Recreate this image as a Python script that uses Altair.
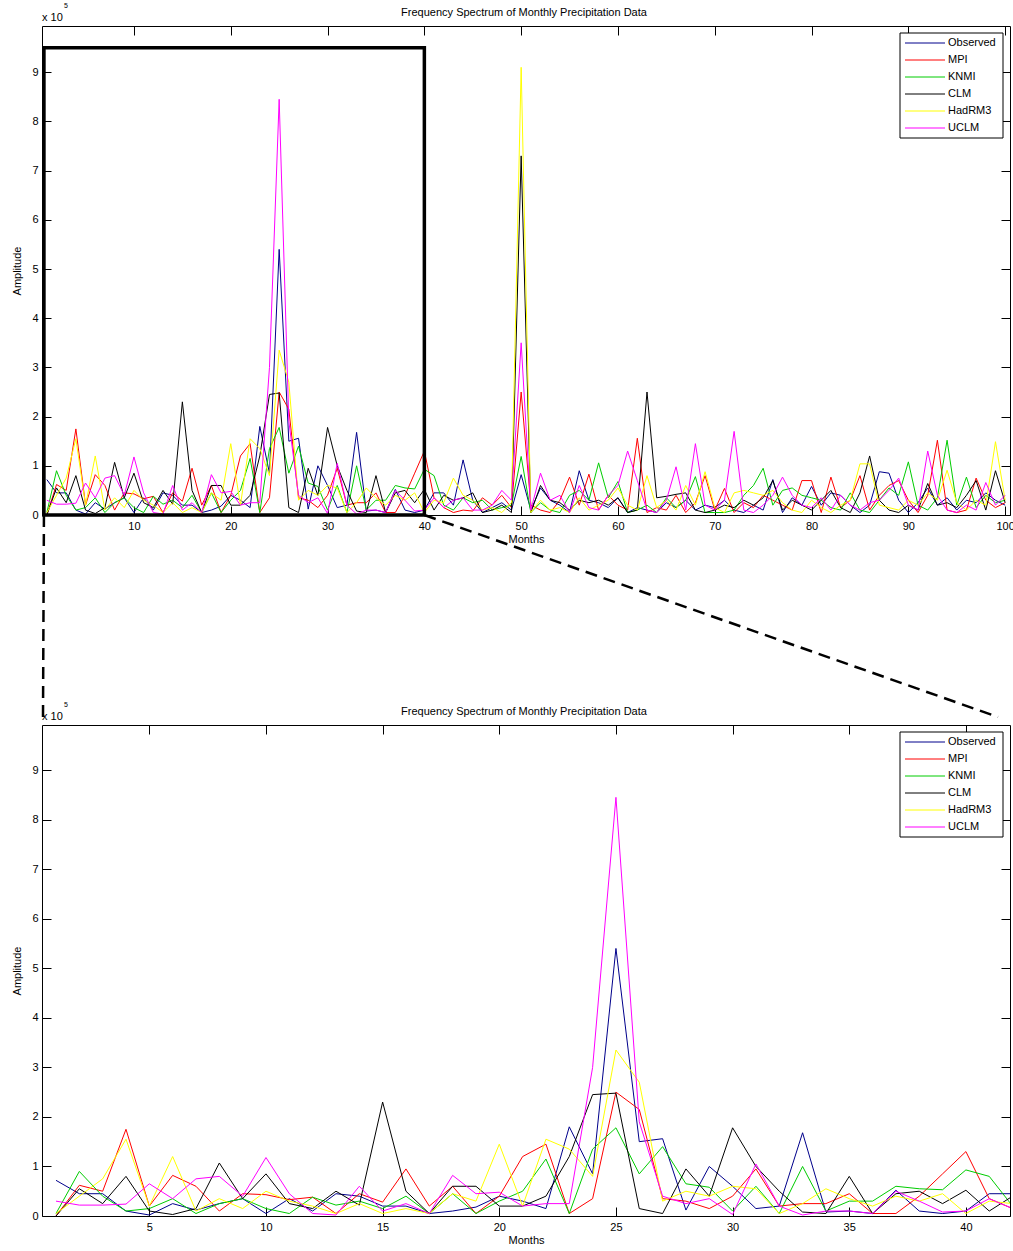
import altair as alt
import pandas as pd

# ---------------- data (amplitude in units of 1e5) ----------------
months = list(range(1, 101))

observed = [0.72, 0.45, 0.45, 0.10, 0.02, 0.25, 0.12, 0.25, 0.35, 0.05,
            0.35, 0.10, 0.45, 0.40, 0.20, 0.20, 0.05, 0.10, 0.18, 0.40,
            0.30, 0.15, 1.80, 0.85, 5.40, 1.50, 1.56, 0.12, 1.00, 0.60,
            0.15, 0.20, 1.68, 0.08, 0.10, 0.05, 0.52, 0.10, 0.05, 0.10,
            0.45, 0.45, 0.20, 1.12, 0.30, 0.05, 0.15, 0.25, 0.10, 0.82,
            0.10, 0.55, 0.30, 0.20, 0.05, 0.90, 0.30, 0.25, 0.15, 0.35,
            0.05, 0.15, 0.10, 0.05, 0.25, 0.15, 0.30, 0.10, 0.20, 0.15,
            0.30, 0.10, 0.05, 0.20, 0.10, 0.72, 0.05, 0.35, 0.20, 0.58,
            0.20, 0.45, 0.40, 0.20, 0.05, 0.20, 0.88, 0.85, 0.30, 0.05,
            0.25, 0.55, 0.20, 0.35, 0.10, 0.30, 0.25, 0.45, 0.30, 0.20]

mpi = [0.00, 0.62, 0.50, 1.75, 0.20, 0.82, 0.60, 0.10, 0.45, 0.43,
       0.33, 0.38, 0.05, 0.45, 0.28, 0.95, 0.20, 0.60, 0.05, 0.40,
       1.20, 1.45, 0.05, 0.35, 2.50, 2.15, 0.35, 0.30, 0.15, 0.40,
       0.95, 0.20, 0.25, 0.25, 0.45, 0.05, 0.05, 0.40, 0.85, 1.30,
       0.35, 0.15, 0.05, 0.10, 0.08, 0.35, 0.20, 0.40, 0.15, 2.50,
       0.20, 0.10, 0.05, 0.30, 0.77, 0.20, 0.83, 0.10, 0.40, 0.20,
       0.10, 1.56, 0.05, 0.15, 0.10, 0.40, 0.05, 0.25, 0.80, 0.10,
       0.54, 0.05, 0.25, 0.15, 0.40, 0.30, 0.20, 0.10, 0.70, 0.70,
       0.05, 0.77, 0.15, 0.30, 0.80, 0.10, 0.40, 0.60, 0.70, 0.30,
       0.05, 0.40, 1.52, 0.10, 0.05, 0.10, 0.75, 0.30, 0.15, 0.25]

knmi = [0.05, 0.90, 0.40, 0.10, 0.15, 0.35, 0.05, 0.25, 0.35, 0.15,
        0.05, 0.38, 0.22, 0.30, 0.15, 0.40, 0.05, 0.45, 0.05, 0.30,
        0.50, 1.15, 0.05, 1.35, 1.78, 0.85, 1.40, 0.65, 0.58, 0.10,
        0.60, 0.05, 1.00, 0.10, 0.30, 0.30, 0.60, 0.55, 0.53, 0.93,
        0.80, 0.20, 0.10, 0.35, 0.25, 0.30, 0.10, 0.15, 0.20, 1.19,
        0.05, 0.25, 0.10, 0.05, 0.40, 0.50, 0.30, 1.06, 0.35, 0.68,
        0.05, 0.10, 0.20, 0.05, 0.35, 0.15, 0.30, 0.78, 0.05, 0.05,
        0.05, 0.10, 0.40, 0.60, 0.95, 0.20, 0.50, 0.55, 0.40, 0.35,
        0.30, 0.15, 0.10, 0.45, 0.10, 0.05, 0.30, 0.55, 0.40, 1.08,
        0.20, 0.10, 0.35, 1.52, 0.20, 0.77, 0.15, 0.40, 0.25, 0.30]

clm = [0.00, 0.55, 0.25, 0.80, 0.10, 0.03, 0.15, 1.07, 0.35, 0.85,
       0.25, 0.15, 0.50, 0.22, 2.30, 0.50, 0.05, 0.60, 0.60, 0.20,
       0.20, 0.40, 1.20, 2.45, 2.48, 0.15, 0.05, 0.95, 0.40, 1.78,
       1.00, 0.50, 0.08, 0.05, 0.80, 0.05, 0.45, 0.50, 0.25, 0.52,
       0.10, 0.40, 0.30, 0.35, 0.45, 0.05, 0.10, 0.20, 0.05, 7.30,
       0.05, 0.60, 0.30, 0.25, 0.10, 0.30, 0.25, 0.30, 0.20, 0.35,
       0.05, 0.10, 2.50, 0.35, 0.38, 0.42, 0.45, 0.10, 0.05, 0.10,
       0.20, 0.15, 0.30, 0.20, 0.35, 0.70, 0.10, 0.30, 0.20, 0.10,
       0.30, 0.50, 0.15, 0.05, 0.45, 1.20, 0.30, 0.10, 0.05, 0.20,
       0.10, 0.64, 0.20, 0.25, 0.15, 0.40, 0.70, 0.10, 0.90, 0.25]

hadrm3 = [0.05, 0.40, 0.75, 1.55, 0.20, 1.20, 0.10, 0.35, 0.15, 0.50,
          0.30, 0.20, 0.05, 0.25, 0.05, 0.15, 0.05, 0.45, 0.30, 1.45,
          0.20, 1.55, 1.35, 0.80, 3.35, 2.70, 0.30, 0.50, 0.40, 0.60,
          0.55, 0.05, 0.25, 0.55, 0.35, 0.20, 0.40, 0.30, 0.45, 0.05,
          0.30, 0.25, 0.75, 0.40, 0.30, 0.10, 0.15, 0.05, 0.25, 9.10,
          0.05, 0.30, 0.10, 0.15, 0.05, 0.35, 0.10, 0.20, 0.30, 0.55,
          0.20, 0.10, 0.80, 0.15, 0.30, 0.10, 0.60, 0.20, 0.88, 0.15,
          0.05, 0.45, 0.50, 0.45, 0.40, 0.50, 0.25, 0.10, 0.05, 0.30,
          0.15, 0.05, 0.20, 0.30, 1.04, 1.04, 0.20, 0.15, 0.10, 0.30,
          0.20, 0.45, 0.30, 0.91, 0.25, 0.10, 0.30, 0.20, 1.49, 0.30]

uclm = [0.30, 0.22, 0.22, 0.24, 0.65, 0.35, 0.75, 0.80, 0.40, 1.18,
        0.45, 0.05, 0.02, 0.60, 0.10, 0.25, 0.05, 0.82, 0.45, 0.48,
        0.20, 0.25, 0.25, 3.00, 8.45, 1.90, 0.40, 0.25, 0.35, 0.03,
        1.05, 0.20, 0.02, 0.10, 0.10, 0.05, 0.50, 0.30, 0.08, 0.10,
        0.35, 0.15, 0.30, 0.35, 0.10, 0.10, 0.20, 0.50, 0.30, 3.50,
        0.10, 0.85, 0.30, 0.40, 0.05, 0.60, 0.15, 0.10, 0.40, 0.60,
        1.30, 0.70, 0.10, 0.05, 0.30, 0.98, 0.10, 1.45, 0.20, 0.10,
        0.30, 1.70, 0.10, 0.05, 0.20, 0.40, 0.77, 0.40, 0.20, 0.15,
        0.35, 0.10, 0.40, 0.20, 0.10, 0.25, 0.30, 0.50, 0.75, 0.20,
        0.10, 1.30, 0.40, 0.10, 0.05, 0.20, 0.10, 0.66, 0.20, 0.40]

series_names = ["Observed", "MPI", "KNMI", "CLM", "HadRM3", "UCLM"]
series_values = [observed, mpi, knmi, clm, hadrm3, uclm]
series_colors = ["#00008b", "#ff0000", "#00cc00", "#000000", "#ffff00", "#ff00ff"]

top_x_ticks = [10, 20, 30, 40, 50, 60, 70, 80, 90, 100]
bottom_x_ticks = [5, 10, 15, 20, 25, 30, 35, 40]
y_ticks = [0, 1, 2, 3, 4, 5, 6, 7, 8, 9]

zoom_x = [0.7, 40]        # zoomed window in months
zoom_y = [0, 9.5]         # zoomed window in amplitude
bottom_last_month = 42

title_text = "Frequency Spectrum of Monthly Precipitation Data"
x_title = "Months"
y_title = "Amplitude"
exp_base = "x 10"
exp_power = "5"

# ---------------- layout constants ----------------
FONT = "Liberation Sans"
W = 968
H = 1190
SHIFT = 699
TOP_XS = alt.Scale(domain=[0.5, 100.5], range=[0, W], nice=False, zero=False)
BOT_XS = alt.Scale(domain=[0.4, 41.89], range=[0, W], nice=False, zero=False)
TOP_YS = alt.Scale(domain=[0, 9.94], range=[489, 0], nice=False, zero=False)
BOT_YS = alt.Scale(domain=[0, 9.91], range=[H, SHIFT], nice=False, zero=False)

# ---------------- tables ----------------
rows = []
for name, vals in zip(series_names, series_values):
    for m, v in zip(months, vals):
        rows.append({"month": m, "amp": v, "series": name})
df_all = pd.DataFrame(rows)
df_bot = df_all[df_all["month"] <= bottom_last_month]

color = alt.Color("series:N", scale=alt.Scale(domain=series_names, range=series_colors),
                  legend=None)


def label_x_axis(vals, offset):
    return alt.Axis(values=vals, orient="bottom", offset=offset, tickSize=0,
                    labelPadding=5, domain=True, domainColor="black", domainWidth=1,
                    grid=False, title=x_title, titlePadding=2, titleFont=FONT,
                    titleFontSize=11, titleFontWeight="normal", titleColor="black",
                    labelFont=FONT, labelFontSize=11, labelColor="black",
                    labelFlush=False, labelOverlap=False, format="d")


def label_y_axis():
    return alt.Axis(values=y_ticks, orient="left", tickSize=0, labelPadding=4,
                    domain=True, domainColor="black", domainWidth=1, grid=False,
                    title=y_title, titlePadding=9, titleFont=FONT, titleFontSize=11,
                    titleFontWeight="normal", titleColor="black",
                    labelFont=FONT, labelFontSize=11, labelColor="black",
                    labelFlush=False, labelOverlap=False, format="d")


def tick_axis(vals, orient, offset, domain=False):
    return alt.Axis(values=vals, orient=orient, offset=offset, tickSize=9,
                    tickColor="black", tickWidth=1, labels=False, domain=domain,
                    domainColor="black", domainWidth=1, grid=False, title="")


def panel(df, xs, ys, xt, x_label_off, bottom_y, top_y, clip):
    lines = alt.Chart(df).mark_line(strokeWidth=1, clip=clip).encode(
        x=alt.X("month:Q", scale=xs, axis=label_x_axis(xt, x_label_off)),
        y=alt.Y("amp:Q", scale=ys, axis=label_y_axis()),
        color=color,
    )
    carrier_df = pd.DataFrame({"month": [xt[0]], "amp": [y_ticks[0]]})
    c1 = alt.Chart(carrier_df).mark_point(opacity=0).encode(
        x=alt.X("month:Q", scale=xs, axis=tick_axis(xt, "top", -bottom_y)),
        y=alt.Y("amp:Q", scale=ys, axis=tick_axis(y_ticks, "right", -W)),
    )
    c2 = alt.Chart(carrier_df).mark_point(opacity=0).encode(
        x=alt.X("month:Q", scale=xs, axis=tick_axis(xt, "bottom", top_y - H, True)),
        y=alt.Y("amp:Q", scale=ys, axis=tick_axis(y_ticks, "left", -W, True)),
    )
    return [lines, c1, c2]


top_layers = panel(df_all, TOP_XS, TOP_YS, top_x_ticks, 489 - H, 489, 0, False)
bot_layers = panel(df_bot, BOT_XS, BOT_YS, bottom_x_ticks, 0, H, SHIFT, True)

# zoom box and connectors
zoom_df = pd.DataFrame({"x": [zoom_x[0]], "x2": [zoom_x[1]], "y": [zoom_y[0]], "y2": [zoom_y[1]]})
zoom_rect = alt.Chart(zoom_df).mark_rect(fillOpacity=0, stroke="black", strokeWidth=3.5).encode(
    x=alt.X("x:Q", scale=TOP_XS, axis=None), x2="x2:Q",
    y=alt.Y("y:Q", scale=TOP_YS, axis=None), y2="y2:Q",
)
conn_left = alt.Chart(pd.DataFrame({"x": [zoom_x[0]], "y": [zoom_y[0]]})).mark_rule(
    color="black", strokeWidth=2.5, strokeDash=[12, 7]).encode(
    x=alt.X("x:Q", scale=TOP_XS, axis=None), y=alt.Y("y:Q", scale=TOP_YS, axis=None),
    x2=alt.value(1), y2=alt.value(SHIFT - 8),
)
conn_right = alt.Chart(pd.DataFrame({"x": [zoom_x[1]], "y": [zoom_y[0]]})).mark_rule(
    color="black", strokeWidth=2.5, strokeDash=[12, 7]).encode(
    x=alt.X("x:Q", scale=TOP_XS, axis=None), y=alt.Y("y:Q", scale=TOP_YS, axis=None),
    x2=alt.value(956), y2=alt.value(SHIFT - 8),
)

# legends (one per panel)
leg_rows = []
box_rows = []
txt_rows = []
for p in range(2):
    off = p * SHIFT
    box_rows.append({"top": 7 + off, "bottom": 112 + off})
    for i, name in enumerate(series_names):
        leg_rows.append({"series": name, "ly": 17 + 17 * i + off})
    txt_rows.append({"t": title_text, "e": exp_base, "p": exp_power,
                     "ty": -13 + off, "ey": -5 + off, "py": -18 + off})
leg_df = pd.DataFrame(leg_rows)
box_df = pd.DataFrame(box_rows)
txt_df = pd.DataFrame(txt_rows)

leg_box = alt.Chart(box_df).mark_rect(fill="white", stroke="black", strokeWidth=1).encode(
    x=alt.value(858), x2=alt.value(961),
    y=alt.Y("top:Q", scale=None), y2="bottom:Q",
)
leg_lines = alt.Chart(leg_df).mark_rule(strokeWidth=1).encode(
    x=alt.value(863), x2=alt.value(903), y=alt.Y("ly:Q", scale=None), color=color,
)
leg_text = alt.Chart(leg_df).mark_text(align="left", baseline="middle", font=FONT,
                                       fontSize=11, color="black").encode(
    x=alt.value(906), y=alt.Y("ly:Q", scale=None), text="series:N",
)
titles = alt.Chart(txt_df).mark_text(align="center", baseline="middle", font=FONT,
                                     fontSize=11, color="black").encode(
    x=alt.value(W / 2 - 2), y=alt.Y("ty:Q", scale=None), text="t:N",
)
exp_text = alt.Chart(txt_df).mark_text(align="left", baseline="alphabetic", font=FONT,
                                       fontSize=11, color="black").encode(
    x=alt.value(0), y=alt.Y("ey:Q", scale=None), text="e:N",
)
pow_text = alt.Chart(txt_df).mark_text(align="left", baseline="alphabetic", font=FONT,
                                       fontSize=7, color="black").encode(
    x=alt.value(22), y=alt.Y("py:Q", scale=None), text="p:N",
)

chart = alt.layer(
    *top_layers, *bot_layers, zoom_rect, conn_left, conn_right,
    leg_box, leg_lines, leg_text, titles, exp_text, pow_text,
).resolve_scale(x="independent", y="independent").resolve_axis(
    x="independent", y="independent"
).properties(
    width=W, height=H,
    autosize=alt.AutoSizeParams(type="none"),
    padding={"left": 42, "top": 26, "right": 3, "bottom": 35},
    background="white",
).configure_view(strokeWidth=0)

chart.save("out.html", embed_options={"renderer": "svg", "actions": False})
